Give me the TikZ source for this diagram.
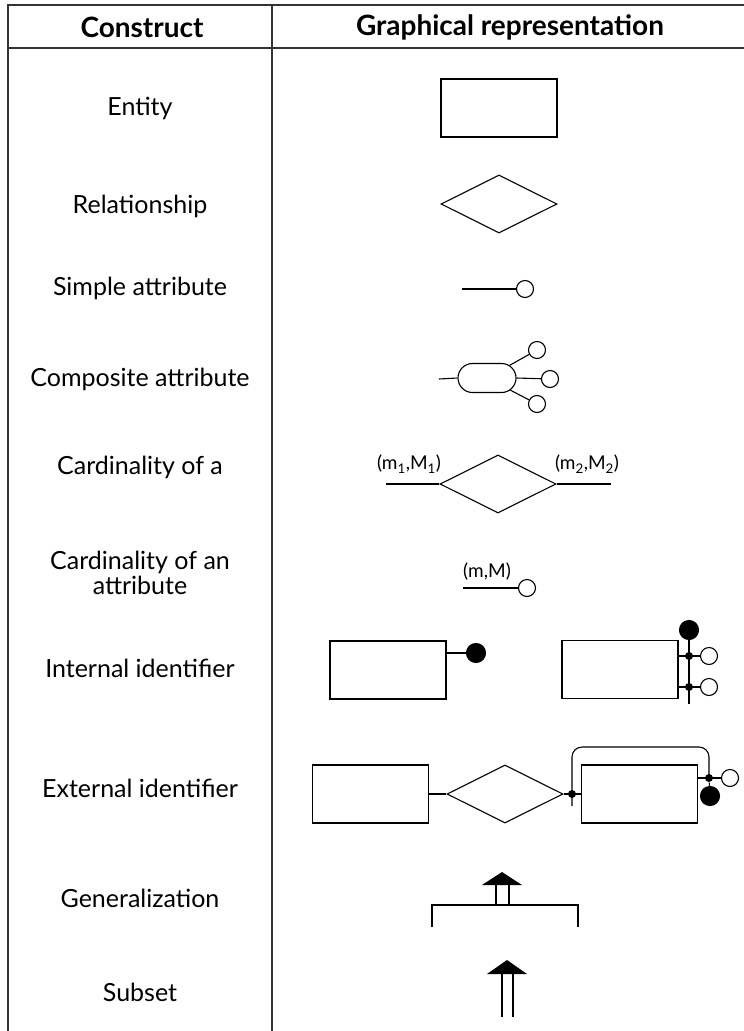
\documentclass[tikz,border=0pt]{standalone}
\usepackage{fontspec}
\setmainfont{Lato}
\usetikzlibrary{shapes.geometric,shapes.misc}
\begin{document}
\begin{tikzpicture}[x=1pt,y=-1pt, line width=1.1pt,
  ent/.style={draw, rectangle, minimum width=116pt, minimum height=58pt, inner sep=0pt},
  rel/.style={draw, diamond, minimum width=116pt, minimum height=58pt, inner sep=0pt},
  attr/.style={draw, circle, minimum size=17pt, inner sep=0pt, fill=white},
  idf/.style={draw, circle, fill=black, minimum size=19pt, inner sep=0pt},
  dot/.style={circle, fill=black, minimum size=8pt, inner sep=0pt},
  lbl/.style={font=\fontsize{25}{25}\selectfont, align=center, inner sep=0pt},
  hdr/.style={font=\fontsize{28}{30}\selectfont\bfseries, inner sep=0pt},
  card/.style={font=\fontsize{19}{21}\selectfont, inner sep=0pt},
  grid/.style={line width=1.2pt, draw=black!80}]
\useasboundingbox (0,0) rectangle (744,1031);
% table
\draw[grid] (744,5) -- (8,5) -- (8,1031);
\draw[grid] (8,48) -- (744,48);
\draw[grid] (272,5) -- (272,1031);
\node[hdr] (h1) at (142,27) {Construct};
\node[hdr] (h2) at (510,27) {Graphical representation};
% labels
\node[lbl] (l1) at (140,108) {Entity};
\node[lbl] (l2) at (140,206) {Relationship};
\node[lbl] (l3) at (140,288) {Simple attribute};
\node[lbl] (l4) at (140,379) {Composite attribute};
\node[lbl] (l5) at (140,467) {Cardinality of a};
\node[lbl] (l6) at (140,573) {Cardinality of an\\attribute};
\node[lbl] (l7) at (140,668) {Internal identifier};
\node[lbl] (l8) at (140,788) {External identifier};
\node[lbl] (l9) at (140,898) {Generalization};
\node[lbl] (l10) at (140,992) {Subset};
% entity, relationship
\node[ent] (e) at (499,108) {};
\node[rel] (r) at (499,204) {};
% simple attribute
\coordinate (sa0) at (462,289);
\node[attr] (sa) at (525,289) {};
\draw (sa0) -- (sa);
% composite attribute
\coordinate (ca0) at (439,379);
\node[draw, rounded rectangle, minimum width=58pt, minimum height=29pt, inner sep=0pt] (ca) at (487,378) {};
\node[attr] (ca1) at (537,350) {};
\node[attr] (ca2) at (550,379) {};
\node[attr] (ca3) at (537,404) {};
\draw (ca0) -- (ca.west);
\draw (ca) -- (ca1);
\draw (ca.east) -- (ca2);
\draw (ca) -- (ca3);
% cardinality of a relationship
\node[rel] (cr) at (498,484) {};
\coordinate (crl) at (386,484);
\coordinate (crr) at (611,484);
\draw (crl) -- (cr.west);
\draw (cr.east) -- (crr);
\node[card] (crt1) at (409,464) {(m\textsubscript{1},M\textsubscript{1})};
\node[card] (crt2) at (587,464) {(m\textsubscript{2},M\textsubscript{2})};
% cardinality of an attribute
\coordinate (ma0) at (463,588);
\node[attr] (ma) at (527,588) {};
\draw (ma0) -- (ma);
\node[card] (mat) at (487,572) {(m,M)};
% internal identifier
\node[ent] (ii1) at (388,670) {};
\node[idf] (ii1k) at (476,653) {};
\draw (ii1.east |- ii1k) -- (ii1k);
\node[ent] (ii2) at (620,669.5) {};
\node[idf] (ii2k) at (689,630) {};
\coordinate (ii2b) at (689,704);
\draw (ii2k) -- (ii2b);
\node[attr] (ia1) at (709,656) {};
\node[attr] (ia2) at (709,687) {};
\node[dot] (id1) at (689,656) {};
\node[dot] (id2) at (689,687) {};
\draw (ii2.east |- id1) -- (ia1);
\draw (ii2.east |- id2) -- (ia2);
% external identifier
\node[ent] (x1) at (370.5,794) {};
\node[rel] (x2) at (505,794) {};
\node[ent] (x3) at (639.5,794) {};
\draw (x1) -- (x2);
\draw (x2) -- (x3);
\node[dot] (xd1) at (572,794) {};
\coordinate (xb) at (572,806);
\coordinate (xt) at (709,747);
\node[dot] (xd2) at (709,778) {};
\node[attr] (xo) at (730,778) {};
\node[idf] (xk) at (710,796) {};
\draw[rounded corners=10pt] (xb) |- (xt) -- (xd2.center);
\draw (x3.east |- xd2) -- (xo);
\draw (xd2) -- (xk);
% generalization
\fill (502,872) -- (522,885) -- (482,885) -- cycle;
\draw (496,885) -- (496,905);
\draw (509,885) -- (509,905);
\draw (432,927) -- (432,905) -- (578,905) -- (578,927);
% subset
\fill (507,960) -- (527,974) -- (487,974) -- cycle;
\draw (502,974) -- (502,1017);
\draw (513,974) -- (513,1017);
\end{tikzpicture}
\end{document}
